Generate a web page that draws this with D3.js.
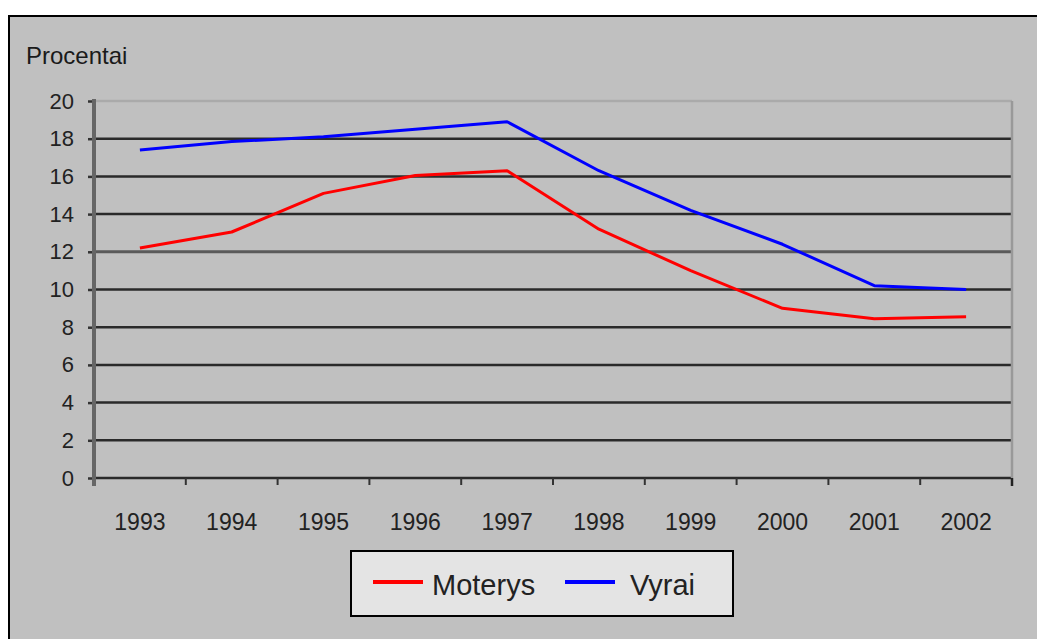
<!DOCTYPE html>
<html>
<head>
<meta charset="utf-8">
<script src="https://cdn.jsdelivr.net/npm/d3@7"></script>
<style>
  body { margin: 0; background: #fff; }
  svg { display: block; font-family: "Liberation Sans", Arial, sans-serif; }
</style>
</head>
<body>
<div id="chart"></div>
<script>
// chart data
var years = ["1993", "1994", "1995", "1996", "1997", "1998", "1999", "2000", "2001", "2002"];
var moterys = [12.2, 13.05, 15.1, 16.05, 16.3, 13.2, 11.0, 9.0, 8.45, 8.55];
var vyrai = [17.4, 17.85, 18.1, 18.5, 18.9, 16.3, 14.2, 12.4, 10.2, 10.0];
var yTicks = [0, 2, 4, 6, 8, 10, 12, 14, 16, 18, 20];
var seriesNames = ["Moterys", "Vyrai"];
var seriesColors = ["#ff0000", "#0000ff"];

var W = 1037, H = 639;
var margin = { top: 101, right: 25, bottom: 161, left: 94 },
    width = W - margin.left - margin.right,
    height = H - margin.top - margin.bottom;

var root = d3.select("#chart").append("svg")
    .attr("width", W)
    .attr("height", H);

// grey frame
root.append("rect")
    .attr("x", 9).attr("y", 16)
    .attr("width", W + 10).attr("height", H + 10)
    .attr("fill", "#c0c0c0")
    .attr("stroke", "#000")
    .attr("stroke-width", 2);

root.append("text")
    .attr("x", 26).attr("y", 64)
    .style("font-size", "24px")
    .style("fill", "#1a1a1a")
    .text("Procentai");

var svg = root.append("g")
    .attr("transform", "translate(" + margin.left + "," + margin.top + ")");

var x = d3.scaleBand().domain(years).range([0, width]);
var y = d3.scaleLinear().domain([0, 20]).range([height, 0]);

// gridlines
svg.selectAll(".grid")
    .data(yTicks)
    .enter()
    .append("line")
    .attr("x1", 0).attr("x2", width)
    .attr("y1", function(d) { return y(d); })
    .attr("y2", function(d) { return y(d); })
    .attr("stroke", function(d) { return d == 20 ? "#aaaaaa" : (d == 12 ? "#5a5a5a" : "#2a2a2a"); })
    .attr("stroke-width", function(d) { return d == 12 ? 3 : 2.5; });

// right edge of plot
svg.append("line")
    .attr("x1", width).attr("x2", width)
    .attr("y1", 0).attr("y2", height)
    .attr("stroke", "#999").attr("stroke-width", 2.5);

// y axis
var yAxis = svg.append("g")
    .call(d3.axisLeft(y).tickValues(yTicks).tickSize(6).tickPadding(14));
yAxis.select(".domain").remove();
yAxis.selectAll(".tick line").attr("stroke", "#333").attr("stroke-width", 2.5);
yAxis.selectAll("text")
    .style("font-size", "22px")
    .style("fill", "#222");
svg.append("line")
    .attr("x1", 0).attr("x2", 0)
    .attr("y1", -2).attr("y2", height + 8)
    .attr("stroke", "#666").attr("stroke-width", 4);

// x axis
var xAxis = svg.append("g")
    .attr("transform", "translate(0," + height + ")")
    .call(d3.axisBottom(x).tickSize(0).tickPadding(36));
xAxis.select(".domain").remove();
xAxis.selectAll("text")
    .style("font-size", "23px")
    .style("fill", "#222");
svg.selectAll(".xtick")
    .data(years.slice(1))
    .enter()
    .append("line")
    .attr("x1", function(d) { return x(d); })
    .attr("x2", function(d) { return x(d); })
    .attr("y1", height).attr("y2", height + 7)
    .attr("stroke", "#333").attr("stroke-width", 2);
svg.append("line")
    .attr("x1", width).attr("x2", width)
    .attr("y1", height).attr("y2", height + 8)
    .attr("stroke", "#222").attr("stroke-width", 2.5);

// lines (straight segments with soft joins)
var line = d3.line()
    .x(function(d, i) { return x(years[i]) + x.bandwidth() / 2; })
    .y(function(d) { return y(d); });

[moterys, vyrai].forEach(function(vals, i) {
    svg.append("path")
        .attr("d", line(vals))
        .attr("fill", "none")
        .attr("stroke", seriesColors[i])
        .attr("stroke-width", 3)
        .attr("stroke-linejoin", "round");
});

// legend
var lg = root.append("g").attr("transform", "translate(351,551)");
lg.append("rect")
    .attr("width", 382).attr("height", 65)
    .attr("fill", "#e4e4e4")
    .attr("stroke", "#000")
    .attr("stroke-width", 2);
var legX = [22, 214];
var textX = [81, 279];
seriesNames.forEach(function(name, i) {
    lg.append("line")
        .attr("x1", legX[i]).attr("x2", legX[i] + 50)
        .attr("y1", 31).attr("y2", 31)
        .attr("stroke", seriesColors[i])
        .attr("stroke-width", 4);
    lg.append("text")
        .attr("x", textX[i]).attr("y", 44)
        .style("font-size", "29px")
        .style("fill", "#222")
        .text(name);
});
</script>
</body>
</html>
